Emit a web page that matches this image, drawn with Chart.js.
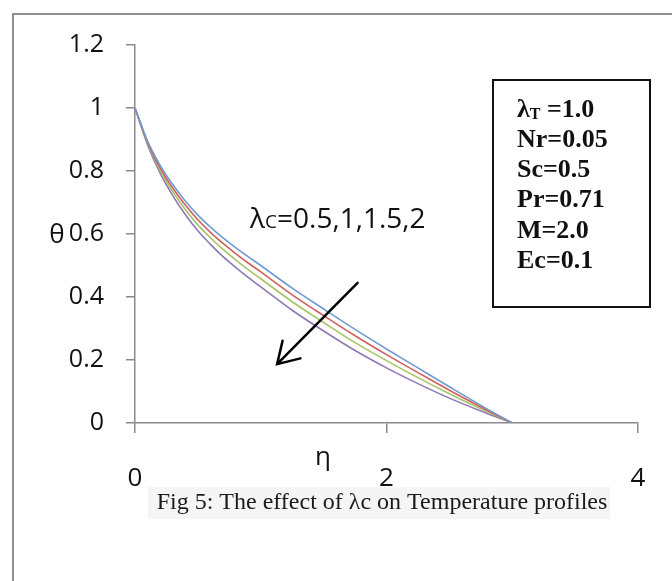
<!DOCTYPE html>
<html>
<head>
<meta charset="utf-8">
<title>Temperature profiles</title>
<script src="https://cdn.jsdelivr.net/npm/chart.js@4.4.1/dist/chart.umd.min.js"></script>
<style>
  html, body { margin: 0; padding: 0; background: #fff; }
  #wrap { width: 672px; height: 581px; position: relative; }
</style>
</head>
<body>
<div id="wrap"><canvas id="theta-chart" width="672" height="581"></canvas></div>
<script>
// eta grid and theta profiles for each lambda_c
const etaValues = [0, 0.1, 0.2, 0.3, 0.4, 0.5, 0.6, 0.7, 0.8, 0.9, 1, 1.25, 1.5, 1.75, 2, 2.25, 2.5, 2.75, 3];
const thetaLc05 = [1, 0.895, 0.818, 0.757, 0.705, 0.66, 0.622, 0.588, 0.557, 0.528, 0.5, 0.428, 0.362, 0.297, 0.235, 0.175, 0.115, 0.056, 0];
const thetaLc1 = [1, 0.891, 0.81, 0.746, 0.692, 0.645, 0.605, 0.57, 0.538, 0.508, 0.48, 0.407, 0.341, 0.277, 0.217, 0.16, 0.104, 0.051, 0];
const thetaLc15 = [1, 0.888, 0.802, 0.735, 0.678, 0.629, 0.588, 0.551, 0.518, 0.487, 0.458, 0.385, 0.319, 0.255, 0.198, 0.144, 0.093, 0.045, 0];
const thetaLc2 = [1, 0.883, 0.793, 0.722, 0.662, 0.61, 0.567, 0.528, 0.494, 0.462, 0.432, 0.358, 0.292, 0.23, 0.175, 0.125, 0.079, 0.038, 0];

const seriesLabels = ['λc=0.5', 'λc=1', 'λc=1.5', 'λc=2'];
const seriesColors = ['#6f9bd1', '#d0605c', '#a6c466', '#9078b4'];

const xTickLabels = ['0', '2', '4'];
const yTickLabels = ['0', '0.2', '0.4', '0.6', '0.8', '1', '1.2'];

const paramLines = [
  ['λ', 'T', ' =1.0'],
  ['Nr=0.05'],
  ['Sc=0.5'],
  ['Pr=0.71'],
  ['M=2.0'],
  ['Ec=0.1']
];

const axisFont = '"Open Sans", "DejaVu Sans", sans-serif';
const serifFont = '"Liberation Serif", "Times New Roman", serif';

function toPoints(ys) {
  return etaValues.map((x, i) => ({ x, y: ys[i] }));
}

const seriesData = [thetaLc05, thetaLc1, thetaLc15, thetaLc2];

// frame, axis titles, arrow, parameter box and caption
const decorPlugin = {
  id: 'figureDecor',
  afterDraw(chart) {
    const ctx = chart.ctx;
    const xs = chart.scales.x;
    const ys = chart.scales.y;
    ctx.save();

    // outer frame
    ctx.strokeStyle = '#8f8f8f';
    ctx.lineWidth = 2;
    ctx.beginPath();
    ctx.moveTo(13, 581);
    ctx.lineTo(13, 14);
    ctx.lineTo(672, 14);
    ctx.stroke();

    // axis titles
    ctx.fillStyle = '#111';
    ctx.textAlign = 'center';
    ctx.textBaseline = 'middle';
    ctx.font = '26px ' + axisFont;
    ctx.fillText('θ', 57, 236);
    ctx.fillText('η', 323, 458);

    // arrow across the curves
    const x0 = xs.getPixelForValue(1.77);
    const y0 = ys.getPixelForValue(0.445);
    const x1 = xs.getPixelForValue(1.13);
    const y1 = ys.getPixelForValue(0.187);
    ctx.strokeStyle = '#000';
    ctx.lineWidth = 2.5;
    ctx.lineCap = 'round';
    ctx.beginPath();
    ctx.moveTo(x0, y0);
    ctx.lineTo(x1, y1);
    const ang = Math.atan2(y0 - y1, x0 - x1);
    const head = 24;
    const spread = 0.55;
    ctx.moveTo(x1 + head * Math.cos(ang - spread), y1 + head * Math.sin(ang - spread));
    ctx.lineTo(x1, y1);
    ctx.lineTo(x1 + head * Math.cos(ang + spread), y1 + head * Math.sin(ang + spread));
    ctx.stroke();

    // lambda_c label
    let lx = xs.getPixelForValue(0.915);
    const ly = ys.getPixelForValue(0.651);
    ctx.textAlign = 'left';
    ctx.textBaseline = 'alphabetic';
    ctx.fillStyle = '#111';
    ctx.font = '28px ' + axisFont;
    ctx.fillText('λ', lx, ly + 10);
    lx += ctx.measureText('λ').width;
    ctx.font = '19px ' + axisFont;
    ctx.fillText('C', lx, ly + 10);
    lx += ctx.measureText('C').width;
    ctx.font = '28px ' + axisFont;
    ctx.fillText('=0.5,1,1.5,2', lx, ly + 10);

    // parameter box
    ctx.strokeStyle = '#111';
    ctx.lineWidth = 2;
    ctx.strokeRect(493, 80, 157, 227);
    ctx.fillStyle = '#111';
    ctx.textBaseline = 'middle';
    paramLines.forEach((parts, i) => {
      const cy = 110 + i * 30.2;
      let px = 517;
      if (parts.length === 3) {
        ctx.font = 'bold 26px ' + serifFont;
        ctx.fillText(parts[0], px, cy);
        px += ctx.measureText(parts[0]).width;
        ctx.font = 'bold 16px ' + serifFont;
        ctx.fillText(parts[1], px, cy + 5);
        px += ctx.measureText(parts[1]).width;
        ctx.font = 'bold 26px ' + serifFont;
        ctx.fillText(parts[2], px, cy);
      } else {
        ctx.font = 'bold 26px ' + serifFont;
        ctx.fillText(parts[0], px, cy);
      }
    });

    // caption
    ctx.fillStyle = '#f5f5f5';
    ctx.fillRect(148, 487, 462, 32);
    ctx.fillStyle = '#1a1a1a';
    ctx.textAlign = 'center';
    ctx.font = '24px ' + serifFont;
    ctx.fillText('Fig 5: The effect of λc on Temperature profiles', 382, 503);

    ctx.restore();
  }
};

const chart = new Chart(document.getElementById('theta-chart'), {
  type: 'line',
  data: {
    datasets: seriesData.map((ys, i) => ({
      label: seriesLabels[i],
      data: toPoints(ys),
      borderColor: seriesColors[i],
      borderWidth: 1.6,
      pointRadius: 0,
      fill: false,
      cubicInterpolationMode: 'monotone'
    }))
  },
  options: {
    responsive: false,
    animation: false,
    layout: { padding: { top: 45, right: 34, left: 0, bottom: 0 } },
    plugins: {
      legend: { display: false },
      tooltip: { enabled: false }
    },
    scales: {
      x: {
        type: 'linear',
        min: 0,
        max: 4,
        afterFit: (scale) => { scale.height = 158; scale.paddingRight = 0; },
        afterBuildTicks: (scale) => {
          scale.ticks = xTickLabels.map((t) => ({ value: Number(t) }));
        },
        ticks: {
          callback: (value, index) => xTickLabels[index],
          color: '#111',
          font: { family: axisFont, size: 26 },
          padding: 30,
          maxRotation: 0
        },
        grid: { drawOnChartArea: false, drawTicks: true, tickLength: 10, color: '#8a8a8a', lineWidth: 1.5 },
        border: { color: '#8a8a8a', width: 1.5 }
      },
      y: {
        type: 'linear',
        min: 0,
        max: 1.2,
        afterFit: (scale) => { scale.width = 135; },
        afterBuildTicks: (scale) => {
          scale.ticks = yTickLabels.map((t) => ({ value: Number(t) }));
        },
        ticks: {
          callback: (value, index) => yTickLabels[index],
          color: '#111',
          font: { family: axisFont, size: 25 },
          padding: 22
        },
        grid: { drawOnChartArea: false, drawTicks: true, tickLength: 9, color: '#8a8a8a', lineWidth: 1.5 },
        border: { color: '#8a8a8a', width: 1.5 }
      }
    }
  },
  plugins: [decorPlugin]
});
</script>
</body>
</html>
